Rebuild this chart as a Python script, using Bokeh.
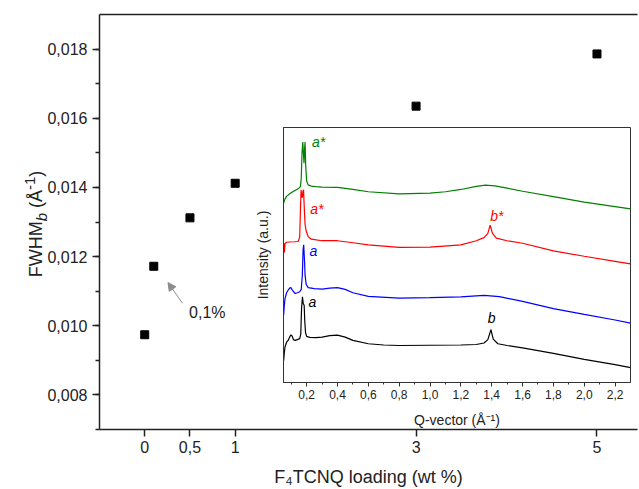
from bokeh.plotting import figure
from bokeh.models import (Range1d, FixedTicker, SingleIntervalTicker, CustomJSTickFormatter,
                          LinearAxis, Label, Arrow, NormalHead, Div)
from bokeh.layouts import column
from bokeh.embed import file_html
from bokeh.resources import INLINE

FONT = "Liberation Sans"

# ---------------- main chart data ----------------
loading = [0, 0.1, 0.5, 1, 3, 5]
fwhm = [0.00974, 0.01172, 0.01312, 0.01412, 0.01635, 0.01786]
x_ticks = [0, 0.5, 1, 3, 5]

# ---------------- inset data (Q in 1/Å, intensity in a.u., offset curves) ----------------
q_black = [0.051, 0.055, 0.06, 0.07, 0.08, 0.09, 0.098, 0.105, 0.115, 0.125, 0.14, 0.155, 0.162,
           0.167, 0.173, 0.178, 0.184, 0.188, 0.193, 0.2, 0.22, 0.26, 0.3, 0.35, 0.4, 0.45, 0.5,
           0.6, 0.7, 0.8, 1.0, 1.2, 1.3, 1.35, 1.375, 1.395, 1.41, 1.44, 1.5, 1.6, 1.8, 2.0, 2.2, 2.3]
i_black = [0.085, 0.115, 0.14, 0.158, 0.165, 0.178, 0.187, 0.183, 0.168, 0.165, 0.168, 0.172, 0.19,
           0.29, 0.336, 0.31, 0.303, 0.24, 0.195, 0.181, 0.177, 0.176, 0.178, 0.184, 0.186, 0.178, 0.165,
           0.152, 0.147, 0.145, 0.146, 0.147, 0.149, 0.155, 0.168, 0.207, 0.17, 0.152, 0.145, 0.136,
           0.114, 0.091, 0.07, 0.058]

q_blue = [0.051, 0.055, 0.06, 0.07, 0.08, 0.09, 0.098, 0.11, 0.125, 0.14, 0.155, 0.165, 0.172,
          0.177, 0.181, 0.186, 0.19, 0.197, 0.21, 0.25, 0.3, 0.35, 0.4, 0.45, 0.5, 0.6, 0.8, 1.0,
          1.2, 1.35, 1.45, 1.6, 1.8, 2.0, 2.2, 2.3]
i_blue = [0.265, 0.3, 0.33, 0.352, 0.362, 0.37, 0.372, 0.36, 0.349, 0.352, 0.356, 0.365, 0.42,
          0.52, 0.54, 0.48, 0.42, 0.385, 0.372, 0.368, 0.366, 0.37, 0.372, 0.365, 0.352, 0.338,
          0.331, 0.333, 0.336, 0.342, 0.337, 0.318, 0.29, 0.267, 0.245, 0.233]

q_red = [0.051, 0.054, 0.056, 0.06, 0.07, 0.09, 0.12, 0.145, 0.155, 0.16, 0.164, 0.168, 0.172,
         0.176, 0.18, 0.185, 0.19, 0.197, 0.21, 0.23, 0.3, 0.4, 0.5, 0.6, 0.8, 1.0, 1.2, 1.3, 1.35,
         1.375, 1.39, 1.405, 1.43, 1.5, 1.6, 1.8, 2.0, 2.2, 2.3]
i_red = [0.53, 0.545, 0.51, 0.545, 0.55, 0.551, 0.552, 0.553, 0.57, 0.68, 0.756, 0.73, 0.725,
         0.75, 0.756, 0.68, 0.62, 0.594, 0.572, 0.562, 0.556, 0.556, 0.548, 0.54, 0.53, 0.531,
         0.54, 0.556, 0.568, 0.585, 0.617, 0.585, 0.566, 0.556, 0.546, 0.516, 0.495, 0.475, 0.465]

q_green = [0.051, 0.06, 0.07, 0.09, 0.11, 0.13, 0.15, 0.16, 0.165, 0.17, 0.175, 0.179, 0.183,
           0.187, 0.19, 0.194, 0.2, 0.21, 0.23, 0.26, 0.3, 0.4, 0.5, 0.6, 0.8, 1.0, 1.1, 1.2, 1.3,
           1.36, 1.42, 1.5, 1.6, 1.8, 2.0, 2.2, 2.3]
i_green = [0.705, 0.72, 0.73, 0.74, 0.748, 0.755, 0.762, 0.768, 0.8, 0.9, 0.943, 0.9, 0.86,
           0.92, 0.943, 0.85, 0.79, 0.775, 0.77, 0.768, 0.766, 0.765, 0.757, 0.748, 0.74, 0.743,
           0.748, 0.757, 0.769, 0.774, 0.771, 0.762, 0.75, 0.729, 0.707, 0.69, 0.681]

peak_labels = ["a*", "a*", "a", "a", "b*", "b"]

AX = "#222222"

# ---------------- main figure ----------------
p = figure(width=639, height=489, x_range=Range1d(-0.5, 5.448), y_range=Range1d(0.007, 0.019),
           output_backend="svg", toolbar_location=None,
           min_border_left=99, min_border_right=2, min_border_top=14, min_border_bottom=59)
p.outline_line_color = None
p.xgrid.visible = False
p.ygrid.visible = False
p.background_fill_color = "white"
p.border_fill_color = "white"

p.scatter(loading, fwhm, marker="square", size=8, color="black")

xa = p.xaxis[0]
xa.ticker = FixedTicker(ticks=x_ticks)
xa.formatter = CustomJSTickFormatter(code="return String(tick).replace('.', ',');")
xa.axis_label = "F\u2084TCNQ loading (wt %)"
xa.axis_label_text_font = FONT
xa.axis_label_text_font_size = "18px"
xa.axis_label_text_font_style = "normal"
xa.axis_label_text_color = AX
xa.axis_label_standoff = 11
xa.major_label_text_font = FONT
xa.major_label_text_font_size = "16px"
xa.major_label_text_color = AX
xa.major_label_standoff = 4
xa.major_tick_out = 7
xa.major_tick_in = 0
xa.minor_tick_line_color = None
xa.axis_line_width = 1.5
xa.axis_line_color = AX
xa.major_tick_line_width = 1.5
xa.major_tick_line_color = AX

ya = p.yaxis[0]
ya.ticker = SingleIntervalTicker(interval=0.002, num_minor_ticks=2)
ya.formatter = CustomJSTickFormatter(code="return tick.toFixed(3).replace('.', ',');")
ya.major_label_text_font = FONT
ya.major_label_text_font_size = "16px"
ya.major_label_text_color = AX
ya.major_label_standoff = 5
ya.major_tick_out = 7
ya.major_tick_in = 0
ya.minor_tick_out = 4
ya.minor_tick_in = 0
ya.axis_line_width = 1.5
ya.axis_line_color = AX
ya.major_tick_line_width = 1.5
ya.major_tick_line_color = AX
ya.minor_tick_line_width = 1.5
ya.minor_tick_line_color = AX

top = LinearAxis(ticker=FixedTicker(ticks=[]), major_tick_out=0, major_tick_in=0,
                 minor_tick_out=0, minor_tick_in=0, major_label_text_font_size="0px",
                 axis_line_width=1.5, axis_line_color=AX)
p.add_layout(top, "above")

# annotation for 0,1 %
p.add_layout(Arrow(end=NormalHead(size=8, fill_color="#8c8c8c", line_color="#8c8c8c"),
                   x_start=0.417, y_start=0.01065, x_end=0.257, y_end=0.01125,
                   line_color="#8c8c8c", line_width=1))
p.add_layout(Label(x=0.49, y=0.01037, text="0,1%", text_font=FONT, text_font_size="16px",
                   text_color=AX, text_baseline="middle", text_align="left"))

# y-axis title with italic subscript and superscript, as rotated text
ylab = Div(text="FWHM<sub><i>b</i></sub> (&Aring;<sup>-1</sup>)", width=130, height=26,
           styles={"position": "absolute", "left": "-40px", "top": "206px",
                   "transform": "rotate(-90deg)", "font-family": FONT, "font-size": "18px",
                   "color": AX, "text-align": "center", "line-height": "26px",
                   "white-space": "nowrap"})

# ---------------- inset figure ----------------
inset = figure(width=448, height=310, x_range=Range1d(0.05, 2.3), y_range=Range1d(0, 1),
               output_backend="svg", toolbar_location=None,
               min_border_left=99, min_border_right=2, min_border_top=7, min_border_bottom=45,
               styles={"position": "absolute", "left": "184px", "top": "120px"})
inset.xgrid.visible = False
inset.ygrid.visible = False
inset.background_fill_color = "white"
inset.border_fill_color = None
inset.outline_line_color = "#333333"
inset.outline_line_width = 1

inset.line(q_black, i_black, line_color="black", line_width=1.2)
inset.line(q_blue, i_blue, line_color="#0000ff", line_width=1.2)
inset.line(q_red, i_red, line_color="#ff0000", line_width=1.2)
inset.line(q_green, i_green, line_color="#008000", line_width=1.2)

ix = inset.xaxis[0]
ix.ticker = SingleIntervalTicker(interval=0.2, num_minor_ticks=2)
ix.formatter = CustomJSTickFormatter(code="return tick.toFixed(1).replace('.', ',');")
ix.axis_label = "Q-vector (\u00c5\u207b\u00b9)"
ix.axis_label_text_font = FONT
ix.axis_label_text_font_size = "14px"
ix.axis_label_text_font_style = "normal"
ix.axis_label_text_color = AX
ix.axis_label_standoff = 10
ix.major_label_text_font = FONT
ix.major_label_text_font_size = "12px"
ix.major_label_text_color = AX
ix.major_label_standoff = 3
ix.major_tick_out = 4
ix.major_tick_in = 0
ix.minor_tick_out = 2
ix.minor_tick_in = 0
ix.axis_line_color = "#333333"
ix.major_tick_line_color = "#333333"
ix.minor_tick_line_color = "#333333"

iy = inset.yaxis[0]
iy.ticker = FixedTicker(ticks=[])
iy.major_tick_out = 0
iy.major_tick_in = 0
iy.minor_tick_out = 0
iy.major_label_text_font_size = "0px"
iy.axis_label = "Intensity (a.u.)"
iy.axis_label_text_font = FONT
iy.axis_label_text_font_size = "14px"
iy.axis_label_text_font_style = "normal"
iy.axis_label_text_color = AX
iy.axis_label_standoff = 13
iy.axis_line_color = "#333333"

lab_specs = [
    (0.234, 0.943, "#008000", "left"),
    (0.223, 0.681, "#ff0000", "left"),
    (0.219, 0.517, "#0000ff", "left"),
    (0.212, 0.317, "black", "left"),
    (1.434, 0.652, "#ff0000", "center"),
    (1.40, 0.252, "black", "center"),
]
for (lx, ly, col, al), txt in zip(lab_specs, peak_labels):
    inset.add_layout(Label(x=lx, y=ly, text=txt, text_font=FONT, text_font_size="14px",
                           text_font_style="italic", text_color=col, text_align=al,
                           text_baseline="middle"))

root = column(p, inset, ylab)
open("out.html", "w").write(file_html(root, INLINE))
